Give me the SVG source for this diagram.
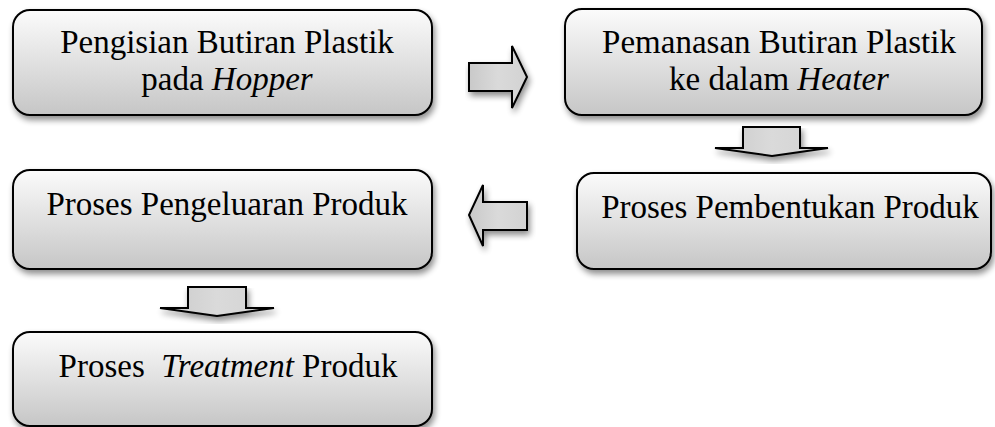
<svg xmlns="http://www.w3.org/2000/svg" width="995" height="427" viewBox="0 0 995 427">
<defs>
<linearGradient id="g" x1="0" y1="0" x2="0" y2="1">
<stop offset="0" stop-color="#fbfbfb"/>
<stop offset="1" stop-color="#c6c6c6"/>
</linearGradient>
<linearGradient id="ga" x1="0" y1="0" x2="1" y2="0">
<stop offset="0" stop-color="#c9c9c9"/>
<stop offset="0.5" stop-color="#dadada"/>
<stop offset="1" stop-color="#d2d2d2"/>
</linearGradient>
<filter id="sh" x="-10%" y="-10%" width="125%" height="135%">
<feGaussianBlur in="SourceAlpha" stdDeviation="3"/>
<feOffset dx="2" dy="4" result="b"/>
<feComponentTransfer><feFuncA type="linear" slope="0.45"/></feComponentTransfer>
<feMerge><feMergeNode/><feMergeNode in="SourceGraphic"/></feMerge>
</filter>
</defs>
<style>
.box{fill:url(#g);stroke:#000;stroke-width:2;filter:url(#sh)}
.arr{fill:url(#ga);stroke:#000;stroke-width:2;stroke-linejoin:miter;filter:url(#sh)}
.t{font-family:"Liberation Serif","Times New Roman",serif;font-size:33px;fill:#000;text-anchor:middle}
.i{font-style:italic}
</style>
<g id="connectors">
<path class="arr" d="M469,63 H512 V46 L527,77 L512,108 V91 H469 Z"/>
<path class="arr" d="M743,127 H800 V148 H828 L772,156 L715,148 H743 Z"/>
<path class="arr" d="M527,202 H483 V185 L469,215 L483,246 V230 H527 Z"/>
<path class="arr" d="M188,287 H246 V308 H274 L217,316 L160,308 H188 Z"/>
</g>
<g id="n1">
<rect class="box" x="13" y="10" width="419" height="105" rx="17"/>
<text class="t" x="227" y="53">Pengisian Butiran Plastik</text>
<text class="t" x="227" y="90">pada <tspan class="i">Hopper</tspan></text>
</g>
<g id="n2">
<rect class="box" x="565" y="9" width="417" height="106" rx="17"/>
<text class="t" x="779" y="53">Pemanasan Butiran Plastik</text>
<text class="t" x="779" y="90">ke dalam <tspan class="i">Heater</tspan></text>
</g>
<g id="n3">
<rect class="box" x="577" y="173" width="414" height="96" rx="17"/>
<text class="t" x="790" y="218">Proses Pembentukan Produk</text>
</g>
<g id="n4">
<rect class="box" x="13" y="170" width="419" height="99" rx="17"/>
<text class="t" x="227" y="215">Proses Pengeluaran Produk</text>
</g>
<g id="n5">
<rect class="box" x="13" y="332" width="419" height="94" rx="17"/>
<text class="t" x="228" y="377" xml:space="preserve">Proses  <tspan class="i">Treatment</tspan> Produk</text>
</g>
</svg>
